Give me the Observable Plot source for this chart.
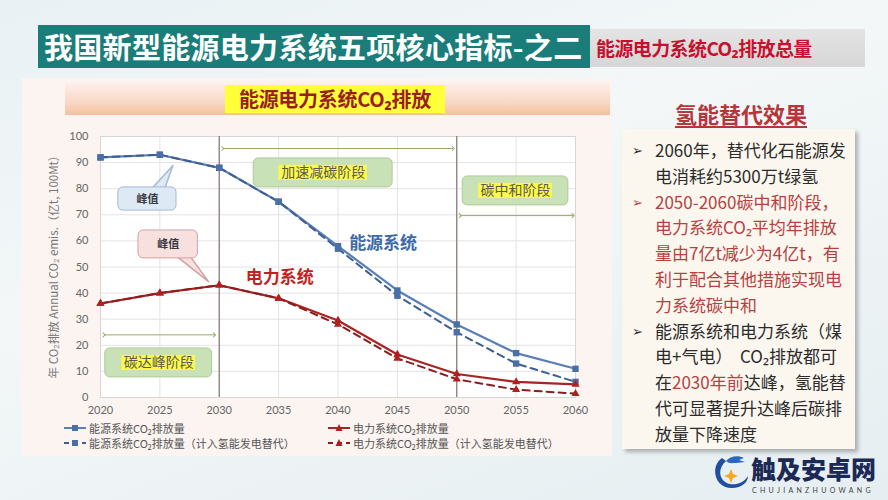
<!DOCTYPE html>
<html><head><meta charset="utf-8">
<script src="https://cdn.jsdelivr.net/npm/d3@7"></script>
<script src="https://cdn.jsdelivr.net/npm/@observablehq/plot@0.6"></script>
<style>
html,body{margin:0;padding:0;}
body{width:888px;height:500px;overflow:hidden;position:relative;
 background:linear-gradient(160deg,#e9f1f4 0%,#f3f7f8 40%,#e6eef1 100%);
 font-family:"Noto Sans CJK SC","Noto Sans",sans-serif;}
.abs{position:absolute;}
#titlebar{left:38px;top:25px;width:552px;height:43px;background:#1b7d7a;}
#title{left:44px;top:25px;height:43px;line-height:43px;color:#fff;font-weight:700;font-size:29px;letter-spacing:0.3px;white-space:nowrap;}
#greybox{left:590px;top:29px;width:275px;height:38px;background:linear-gradient(180deg,#e4e4e4,#d6d6d6);}
#greytext{left:596px;top:29px;height:38px;line-height:38px;color:#c8102e;font-weight:700;font-size:19px;white-space:nowrap;letter-spacing:-0.6px;}
#panel{left:22px;top:78px;width:590px;height:378px;background:#fbf4f1;}
#band{left:65px;top:82px;width:545px;height:33px;background:linear-gradient(180deg,#fdf1ec 0%,#f9d8c6 60%,#f5c09f 100%);}
#hl{left:225px;top:85px;width:220px;height:28px;background:#ffff3a;}
#sub{left:225px;top:85px;width:220px;height:28px;line-height:28px;text-align:center;color:#9a1e1e;font-weight:700;font-size:20px;white-space:nowrap;letter-spacing:-0.3px;}
#chart{left:22px;top:120px;}
#ylab{left:53px;top:264px;font-size:11.5px;color:#777;white-space:nowrap;transform:translate(-50%,-50%) rotate(-90deg);font-family:"Noto Sans CJK SC",sans-serif;}
.leg{position:absolute;font-size:11px;color:#555;white-space:nowrap;display:flex;align-items:center;height:14px;}
.leg svg{margin-right:3px;}
#rtitle{left:668px;top:97px;width:146px;text-align:center;font-size:22px;font-weight:700;color:#b5373a;text-decoration:underline;text-underline-offset:3px;white-space:nowrap;}
#rbox{left:622px;top:129px;width:233px;height:320px;background:#fbf7ef;box-shadow:3px 3px 4px rgba(0,0,0,0.28);}
#rtext{left:632px;top:137px;font-size:17px;line-height:25.8px;white-space:nowrap;}
#rtext .b{display:inline-block;width:23px;font-size:13px;vertical-align:top;}
#rtext .i{display:inline-block;width:23px;}
.k{color:#2b2b2b;} .r{color:#b8403f;}
#logo{left:712px;top:452px;}
#wm{left:751px;top:455px;font-size:25px;line-height:26px;font-weight:900;color:#1b2a55;white-space:nowrap;letter-spacing:0px;}
#wm2{left:752px;top:486px;font-size:7px;line-height:8px;color:#444;letter-spacing:3.3px;font-family:Lato,sans-serif;white-space:nowrap;}
</style></head>
<body>
<div id="titlebar" class="abs"></div>
<div id="title" class="abs">我国新型能源电力系统五项核心指标-之二</div>
<div id="greybox" class="abs"></div>
<div id="greytext" class="abs">能源电力系统CO₂排放总量</div>
<div id="panel" class="abs"></div>
<div id="band" class="abs"></div>
<div id="hl" class="abs"></div>
<div id="sub" class="abs">能源电力系统CO₂排放</div>
<div id="chart" class="abs"></div>
<div id="ylab" class="abs">年 CO₂排放 Annual CO₂ emis.（亿t, 100Mt）</div>
<div id="legend"></div>
<div id="rtitle" class="abs">氢能替代效果</div>
<div id="rbox" class="abs"></div>
<div id="rtext" class="abs">
<div class="k"><span class="b">➢</span>2060年，替代化石能源发</div>
<div class="k"><span class="i"></span>电消耗约5300万t绿氢</div>
<div class="r"><span class="b">➢</span>2050-2060碳中和阶段，</div>
<div class="r"><span class="i"></span>电力系统CO₂平均年排放</div>
<div class="r"><span class="i"></span>量由7亿t减少为4亿t，有</div>
<div class="r"><span class="i"></span>利于配合其他措施实现电</div>
<div class="r"><span class="i"></span>力系统碳中和</div>
<div class="k"><span class="b">➢</span>能源系统和电力系统（煤</div>
<div class="k"><span class="i"></span>电+气电）&nbsp;&nbsp;CO₂排放都可</div>
<div class="k"><span class="i"></span>在<span class="r">2030年前</span>达峰，氢能替</div>
<div class="k"><span class="i"></span>代可显著提升达峰后碳排</div>
<div class="k"><span class="i"></span>放量下降速度</div>
</div>
<svg id="logo" class="abs" width="38" height="40" viewBox="0 0 38 40">
  <path d="M10 6 C-2 14 2 36 20 36 C30 36 36 30 36 24 C32 31 24 33 18 32 C8 30 4 18 14 9 Z" fill="#1f4fa0"/>
  <path d="M14 9 C18 4 26 3 32 6 L27 8 L33 10 L24 11 C20 11 17 12 14 9 Z" fill="#2a66c2"/>
  <path d="M19 17 L21 22 L26 24 L21 26 L19 31 L17 26 L12 24 L17 22 Z" fill="#f5a623"/>
</svg>
<div id="wm" class="abs">触及安卓网</div>
<div id="wm2" class="abs">CHUJIANZHUOWANG</div>
<script>
// ---- data ----
const years = [2020, 2025, 2030, 2035, 2040, 2045, 2050, 2055, 2060];
const energy = [92, 93, 88, 75, 58, 41, 28, 17, 11];
const energyH2 = [92, 93, 88, 75, 57, 39, 25, 13, 6];
const power = [36, 40, 43, 38, 29.5, 16.5, 9, 6, 5];
const powerH2 = [36, 40, 43, 38, 28, 15, 7, 3, 1.5];
const yTicks = [0, 10, 20, 30, 40, 50, 60, 70, 80, 90, 100];
const seriesNames = ["能源系统CO₂排放量", "电力系统CO₂排放量", "能源系统CO₂排放量（计入氢能发电替代）", "电力系统CO₂排放量（计入氢能发电替代）"];
const phaseRules = [2030, 2050];
const phaseArrows = [
  {x1: 2020.3, x2: 2029.6, y: 24},
  {x1: 2030.3, x2: 2049.7, y: 95.4},
  {x1: 2050.3, x2: 2059.8, y: 69.7}
];
const phaseBoxes = [
  {label: "碳达峰阶段", x1: 2020.4, x2: 2029.4, y1: 7.7, y2: 18.8},
  {label: "加速减碳阶段", x1: 2032.9, x2: 2044.6, y1: 80.5, y2: 91.6},
  {label: "碳中和阶段", x1: 2050.5, x2: 2059.4, y1: 73.6, y2: 84.7}
];
const peakBoxes = [
  {label: "峰值", x1: 2021.5, x2: 2026.4, y1: 71.6, y2: 80.5, px: [2024.3, 2026.1, 2025.4], py: [80, 88.9, 80]},
  {label: "峰值", x1: 2023.2, x2: 2028.2, y1: 53.3, y2: 64, px: [2026.5, 2029.1, 2027.6], py: [53.8, 44.4, 53.8]}
];
const seriesLabels = [
  {label: "能源系统", x: 2043.8, y: 59, c: 0},
  {label: "电力系统", x: 2035.1, y: 46, c: 1}
];

// ---- tables ----
const toRows = (vals) => years.map((x, i) => ({x, y: vals[i]}));
const eRows = toRows(energy), eHRows = toRows(energyH2), pRows = toRows(power), pHRows = toRows(powerH2);
const blue = "#5a7fb5", blueD = "#3e5f8f", red = "#a82424", redD = "#8e1c1c";
const pointerRows = peakBoxes.flatMap((b, j) => b.px.map((x, i) => ({x, y: b.py[i], j})));

const chart = Plot.plot({
  width: 588, height: 302,
  marginLeft: 78, marginRight: 35, marginTop: 16, marginBottom: 25,
  style: {fontFamily: "Lato, 'Noto Sans CJK SC', sans-serif", fontSize: "11px", color: "#666", background: "transparent", overflow: "visible"},
  x: {domain: [2020, 2060], ticks: years, tickFormat: d => String(d), tickSize: 0, tickPadding: 9, label: null},
  y: {domain: [0, 100], ticks: yTicks, tickSize: 0, tickPadding: 12, label: null},
  marks: [
    Plot.frame({fill: "#ffffff"}),
    Plot.ruleX(years, {stroke: "#e3e3e3"}),
    Plot.ruleY(yTicks, {stroke: "#e3e3e3"}),
    Plot.frame({stroke: "#d6d6d6"}),
    Plot.ruleX(phaseRules, {stroke: "#8c7f78", strokeWidth: 1.3}),
    Plot.link(phaseArrows, {x1: "x1", x2: "x2", y1: "y", y2: "y", stroke: "#98ab66", strokeWidth: 1, markerStart: "arrow", markerEnd: "arrow"}),
    Plot.rect(phaseBoxes, {x1: "x1", x2: "x2", y1: "y1", y2: "y2", fill: "#c9e1b6", stroke: "#aecb98", rx: 5}),
    Plot.rect(phaseBoxes, {x1: d => (d.x1 + d.x2) / 2 - d.label.length * 0.62, x2: d => (d.x1 + d.x2) / 2 + d.label.length * 0.62, y1: d => (d.y1 + d.y2) / 2 - 2.9, y2: d => (d.y1 + d.y2) / 2 + 2.9, fill: "#fbf94a"}),
    Plot.text(phaseBoxes, {x: d => (d.x1 + d.x2) / 2, y: d => (d.y1 + d.y2) / 2, text: "label", fill: "#5a5a50", fontSize: 14, fontFamily: "'Noto Sans CJK SC', sans-serif"}),
    // callouts
    Plot.line(pointerRows.filter(d => d.j === 0), {x: "x", y: "y", fill: "#dde9f5", stroke: "#a4bad3", curve: "linear-closed"}),
    Plot.line(pointerRows.filter(d => d.j === 1), {x: "x", y: "y", fill: "#f8e0de", stroke: "#cfa3a3", curve: "linear-closed"}),
    Plot.rect([peakBoxes[0]], {x1: "x1", x2: "x2", y1: "y1", y2: "y2", fill: "#dde9f5", stroke: "#a4bad3", rx: 5}),
    Plot.rect([peakBoxes[1]], {x1: "x1", x2: "x2", y1: "y1", y2: "y2", fill: "#f8e0de", stroke: "#cfa3a3", rx: 5}),
    Plot.text(peakBoxes, {x: d => (d.x1 + d.x2) / 2, y: d => (d.y1 + d.y2) / 2, text: "label", fill: "#3a3a44", fontSize: 11, fontWeight: "bold", fontFamily: "'Noto Sans CJK SC', sans-serif"}),
    // series
    Plot.line(eRows, {x: "x", y: "y", stroke: blue, strokeWidth: 2.2}),
    Plot.line(pRows, {x: "x", y: "y", stroke: red, strokeWidth: 2.2}),
    Plot.line(eHRows, {x: "x", y: "y", stroke: blueD, strokeWidth: 2, strokeDasharray: "7,5"}),
    Plot.line(pHRows, {x: "x", y: "y", stroke: redD, strokeWidth: 2, strokeDasharray: "7,5"}),
    Plot.dot(eRows, {x: "x", y: "y", symbol: "square", r: 3.6, fill: "#4a6ea6"}),
    Plot.dot(eHRows, {x: "x", y: "y", symbol: "square", r: 3.6, fill: "#4a6ea6"}),
    Plot.dot(pRows, {x: "x", y: "y", symbol: "triangle", r: 3, fill: "#b02020"}),
    Plot.dot(pHRows, {x: "x", y: "y", symbol: "triangle", r: 3, fill: "#b02020"}),
    Plot.text(seriesLabels, {x: "x", y: "y", text: "label", fill: d => d.c === 0 ? "#3d6aa8" : "#c41f1f", fontSize: 17, fontWeight: "bold", fontFamily: "'Noto Sans CJK SC', sans-serif"})
  ]
});
document.getElementById("chart").appendChild(chart);

// ---- legend ----
const legendSpec = [
  {name: seriesNames[0], left: 64, top: 421, color: blue, dash: null, sym: "sq"},
  {name: seriesNames[1], left: 328, top: 421, color: red, dash: null, sym: "tri"},
  {name: seriesNames[2], left: 64, top: 436, color: blueD, dash: "5,4", sym: "sq"},
  {name: seriesNames[3], left: 328, top: 436, color: redD, dash: "5,4", sym: "tri"}
];
const legend = document.getElementById("legend");
legendSpec.forEach(s => {
  const d = document.createElement("div");
  d.className = "leg";
  d.style.left = s.left + "px"; d.style.top = s.top + "px";
  const mk = s.sym === "sq" ? `<rect x="8" y="4" width="6" height="6" fill="#4a6ea6"/>` : `<path d="M11 3 L14.5 10 L7.5 10 Z" fill="#b02020"/>`;
  d.innerHTML = `<svg width="22" height="14"><line x1="0" x2="22" y1="7" y2="7" stroke="${s.color}" stroke-width="2" ${s.dash ? `stroke-dasharray="${s.dash}"` : ""}/>${mk}</svg><span>${s.name}</span>`;
  legend.appendChild(d);
});
</script>
</body></html>
